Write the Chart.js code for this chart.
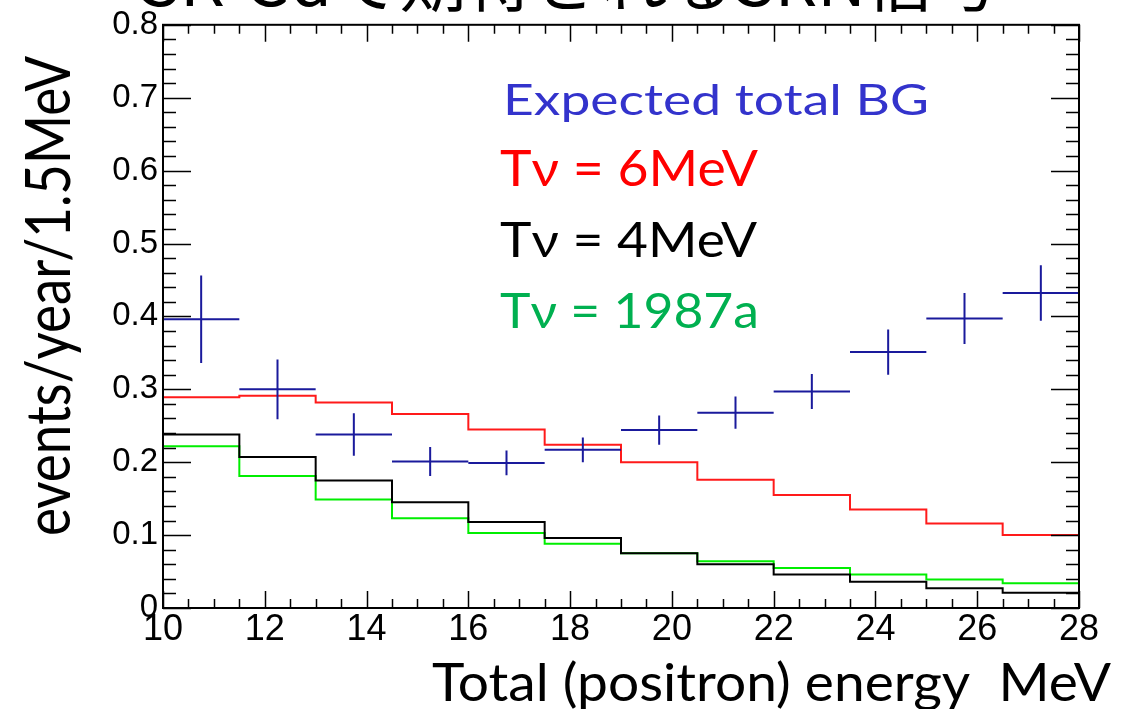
<!DOCTYPE html>
<html>
<head>
<meta charset="utf-8">
<script src="https://cdn.jsdelivr.net/npm/chart.js@4.4.1/dist/chart.umd.min.js"></script>
<style>
  html, body { margin: 0; padding: 0; background: #fff; }
  canvas { display: block; }
</style>
</head>
<body>
<canvas id="grafica" width="1127" height="709"></canvas>
<script>
// bin edges (1.5 MeV bins) and values
const binEdges = [10, 11.5, 13, 14.5, 16, 17.5, 19, 20.5, 22, 23.5, 25, 26.5, 28];
const bgValues = [0.396, 0.300, 0.238, 0.201, 0.199, 0.217, 0.244, 0.268, 0.297, 0.351, 0.397, 0.432];
const bgErrors = [0.060, 0.041, 0.029, 0.020, 0.017, 0.017, 0.020, 0.022, 0.024, 0.031, 0.035, 0.038];
const t6Values = [0.289, 0.291, 0.282, 0.266, 0.245, 0.224, 0.200, 0.176, 0.155, 0.135, 0.116, 0.100];
const t4Values = [0.238, 0.207, 0.175, 0.145, 0.118, 0.096, 0.075, 0.060, 0.046, 0.036, 0.027, 0.021];
const sn1987Values = [0.222, 0.181, 0.149, 0.123, 0.103, 0.088, 0.075, 0.064, 0.055, 0.046, 0.039, 0.034];
const xTicks = [10, 12, 14, 16, 18, 20, 22, 24, 26, 28];
const yTicks = [0, 0.1, 0.2, 0.3, 0.4, 0.5, 0.6, 0.7, 0.8];

const legendTexts = ['Expected total BG', 'T\u03bd = 6MeV', 'T\u03bd = 4MeV', 'T\u03bd = 1987a'];
const titleText = 'SK-Gd\u3067\u671f\u5f85\u3055\u308c\u308bSRN\u4fe1\u53f7';
const xTitle = 'Total (positron) energy  MeV';
const yTitle = 'events/year/1.5MeV';

function histo(vals){
    let pts = [];
    for(let i=0;i<binEdges.length;i++){
        pts.push({x: binEdges[i], y: vals[Math.min(i, vals.length-1)]});
    }
    return pts;
}

let centros = [];
for(let i=0;i<bgValues.length;i++){
    centros.push({x: (binEdges[i]+binEdges[i+1])/2, y: bgValues[i], e: bgErrors[i], w: (binEdges[i+1]-binEdges[i])/2});
}

const LAT = 'Lato, "Open Sans", "DejaVu Sans", sans-serif';

// text stretched to a given width and cap height
function fitText(ctx, text, x, base, w, cap, family, color){
    const size = cap/0.72;
    ctx.font = size+'px '+family;
    const m = ctx.measureText(text).width;
    ctx.save();
    ctx.translate(x, base);
    ctx.scale(w/m, 1);
    ctx.fillStyle = color;
    ctx.textBaseline = 'alphabetic';
    ctx.fillText(text, 0, 0);
    ctx.restore();
}

const errorBars = {
    id: 'errorBars',
    afterDatasetsDraw(chart){
        const ctx = chart.ctx, xs = chart.scales.x, ys = chart.scales.y;
        ctx.save();
        ctx.strokeStyle = '#1a1a9c';
        ctx.lineWidth = 2;
        centros.forEach(p=>{
            const px = xs.getPixelForValue(p.x), py = ys.getPixelForValue(p.y);
            ctx.beginPath();
            ctx.moveTo(xs.getPixelForValue(p.x-p.w), py);
            ctx.lineTo(xs.getPixelForValue(p.x+p.w), py);
            ctx.moveTo(px, ys.getPixelForValue(p.y+p.e));
            ctx.lineTo(px, ys.getPixelForValue(p.y-p.e));
            ctx.stroke();
        });
        ctx.restore();
    }
};

const marco = {
    id: 'marco',
    afterDraw(chart){
        const ctx = chart.ctx, a = chart.chartArea, xs = chart.scales.x, ys = chart.scales.y;
        ctx.save();
        ctx.strokeStyle = '#000';
        ctx.lineWidth = 1.5;
        ctx.beginPath();
        for(let v=10; v<=28.001; v+=0.5){
            const px = Math.round(xs.getPixelForValue(v))+0.5;
            const major = Math.abs(v/2 - Math.round(v/2)) < 1e-6;
            const l = major ? 17 : 9;
            ctx.moveTo(px, a.bottom); ctx.lineTo(px, a.bottom-l);
            ctx.moveTo(px, a.top); ctx.lineTo(px, a.top+l);
        }
        for(let k=0; k<=40; k++){
            const py = Math.round(ys.getPixelForValue(k*0.02))+0.5;
            const l = (k%5==0) ? 28 : 13;
            ctx.moveTo(a.left, py); ctx.lineTo(a.left+l, py);
            ctx.moveTo(a.right, py); ctx.lineTo(a.right-l, py);
        }
        ctx.stroke();
        ctx.lineWidth = 2;
        ctx.strokeRect(a.left, a.top, a.right-a.left, a.bottom-a.top);
        ctx.restore();

        // titles and legend texts
        fitText(ctx, xTitle, 432, 701, 679, 37, LAT, '#000');
        ctx.save();
        ctx.translate(70, 536);
        ctx.rotate(-Math.PI/2);
        fitText(ctx, yTitle, 0, 0, 480, 44, LAT, '#000');
        ctx.restore();
        fitText(ctx, legendTexts[0], 503, 115, 426, 30, LAT, '#3333cc');
        fitText(ctx, legendTexts[1], 500, 186, 258, 36, LAT, '#ff0000');
        fitText(ctx, legendTexts[2], 500, 257, 257, 35, LAT, '#000000');
        fitText(ctx, legendTexts[3], 500, 328, 259, 35, LAT, '#00b050');

        ctx.save();
        ctx.font = '66px "Noto Sans CJK JP", sans-serif';
        const m = ctx.measureText(titleText).width;
        ctx.translate(140, 6);
        ctx.scale(860/m, 1);
        ctx.fillStyle = '#000';
        ctx.fillText(titleText, 0, 0);
        ctx.restore();
    }
};

const grafica = new Chart(document.getElementById('grafica'), {
    type: 'scatter',
    data: {
        datasets: [
            { label: 'Tnu = 6MeV', data: histo(t6Values), showLine: true, stepped: 'before', borderColor: '#ff1a1a', borderWidth: 2, pointRadius: 0, fill: false },
            { label: 'Tnu = 4MeV', data: histo(t4Values), showLine: true, stepped: 'before', borderColor: '#000000', borderWidth: 2, pointRadius: 0, fill: false },
            { label: 'Tnu = 1987a', data: histo(sn1987Values), showLine: true, stepped: 'before', borderColor: '#00ee00', borderWidth: 2, pointRadius: 0, fill: false },
            { label: 'Expected total BG', data: centros, showLine: false, pointRadius: 0, borderColor: '#1a1a9c' }
        ]
    },
    options: {
        responsive: false,
        animation: false,
        devicePixelRatio: 1,
        layout: { padding: { top: 19, right: 48, left: 0, bottom: 0 } },
        plugins: { legend: { display: false }, tooltip: { enabled: false } },
        scales: {
            x: {
                type: 'linear', min: 10, max: 28,
                afterBuildTicks: s => { s.ticks = xTicks.map(v => ({value: v})); },
                afterFit: s => { s.height = 101; },
                grid: { display: false, drawTicks: false },
                border: { display: false },
                ticks: { font: { family: '"Liberation Sans", Arial', size: 36 }, color: '#000', padding: 0, maxRotation: 0, autoSkip: false }
            },
            y: {
                min: 0, max: 0.8,
                afterBuildTicks: s => { s.ticks = yTicks.map(v => ({value: v})); },
                afterFit: s => { s.width = 163; },
                grid: { display: false, drawTicks: false },
                border: { display: false },
                ticks: { font: { family: '"Liberation Sans", Arial', size: 33 }, color: '#000', padding: 5,
                    callback: v => String(Number(v.toFixed(1))) }
            }
        }
    },
    plugins: [errorBars, marco]
});
</script>
</body>
</html>
